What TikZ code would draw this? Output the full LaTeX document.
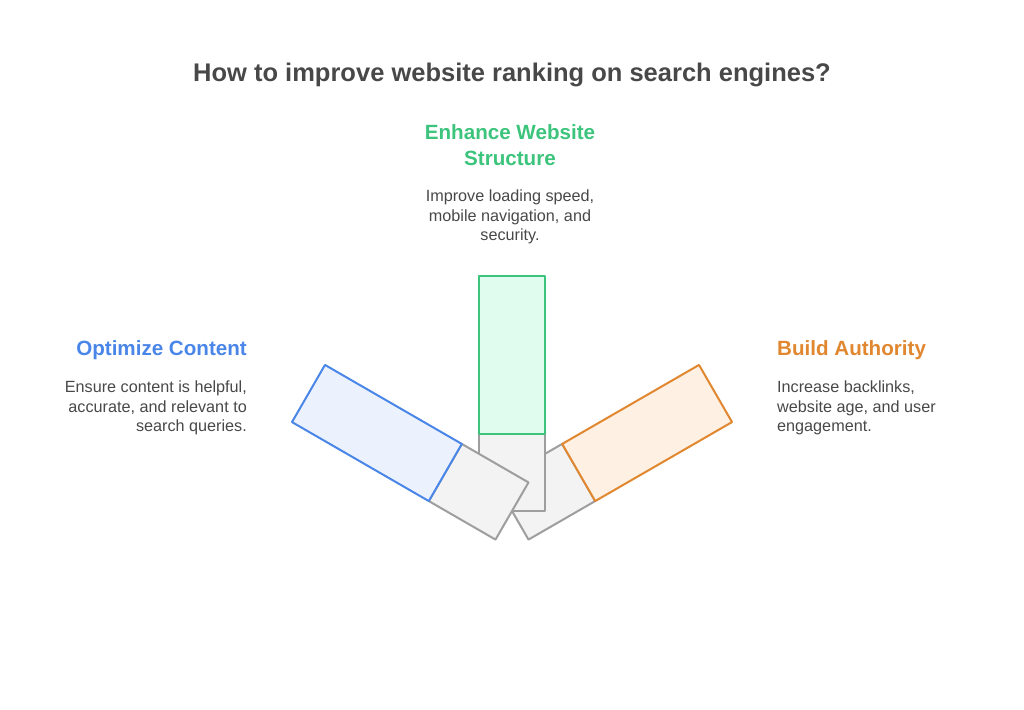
\documentclass[tikz,border=0pt]{standalone}
\usepackage{fontspec}
\setmainfont{Liberation Sans}
\usetikzlibrary{positioning}
\definecolor{mytext}{RGB}{72,72,72}
\definecolor{myblue}{RGB}{74,134,232}
\definecolor{mybluefill}{RGB}{235,242,254}
\definecolor{mygreen}{RGB}{60,196,124}
\definecolor{mygreenfill}{RGB}{224,252,238}
\definecolor{myorange}{RGB}{224,135,47}
\definecolor{myorangefill}{RGB}{254,240,227}
\definecolor{mygray}{RGB}{158,158,158}
\definecolor{mygrayfill}{RGB}{243,243,243}
\tikzset{
  head/.style = {font=\fontsize{20.6}{26}\selectfont\bfseries, inner sep=0},
  body/.style = {font=\fontsize{16.2}{19.5}\selectfont, text=mytext, inner sep=0},
  stem/.style = {draw=mygray, fill=mygrayfill, line width=2pt, line join=round},
  blade/.style = {line width=2pt, line join=round}
}

\begin{document}
\begin{tikzpicture}[x=1pt, y=-1pt]
\useasboundingbox (0,0) rectangle (1024,709);

\node[font=\fontsize{25.5}{30}\selectfont\bfseries, text=mytext, inner sep=0] (title) at (512,75) {How to improve website ranking on search engines?};

% bars, all turned round the same foot
\begin{scope}[shift={(512,511)}, rotate=-60]
\draw[stem] (-33,0) rectangle (33,-77);
\draw[blade, draw=myorange, fill=myorangefill] (-33,-77) rectangle (33,-235);
\end{scope}

\begin{scope}[shift={(512,511)}]
\draw[stem] (-33,0) rectangle (33,-77);
\draw[blade, draw=mygreen, fill=mygreenfill] (-33,-77) rectangle (33,-235);
\end{scope}

\begin{scope}[shift={(512,511)}, rotate=60]
\draw[stem] (-33,0) rectangle (33,-77);
\draw[blade, draw=myblue, fill=mybluefill] (-33,-77) rectangle (33,-235);
\end{scope}

% labels
\node[head, text=mygreen, align=center] (structure) at (510,145) {Enhance Website\\Structure};
\node[body, align=center] (structuretext) at (510,217) {Improve loading speed,\\mobile navigation, and\\security.};

\node[head, text=myblue, anchor=east] (content) at (247,350) {Optimize Content};
\node[body, align=right, anchor=east] (contenttext) at (247,408) {Ensure content is helpful,\\accurate, and relevant to\\search queries.};

\node[head, text=myorange, anchor=west] (authority) at (777,350) {Build Authority};
\node[body, align=left, anchor=west] (authoritytext) at (777,408) {Increase backlinks,\\website age, and user\\engagement.};
\end{tikzpicture}
\end{document}
